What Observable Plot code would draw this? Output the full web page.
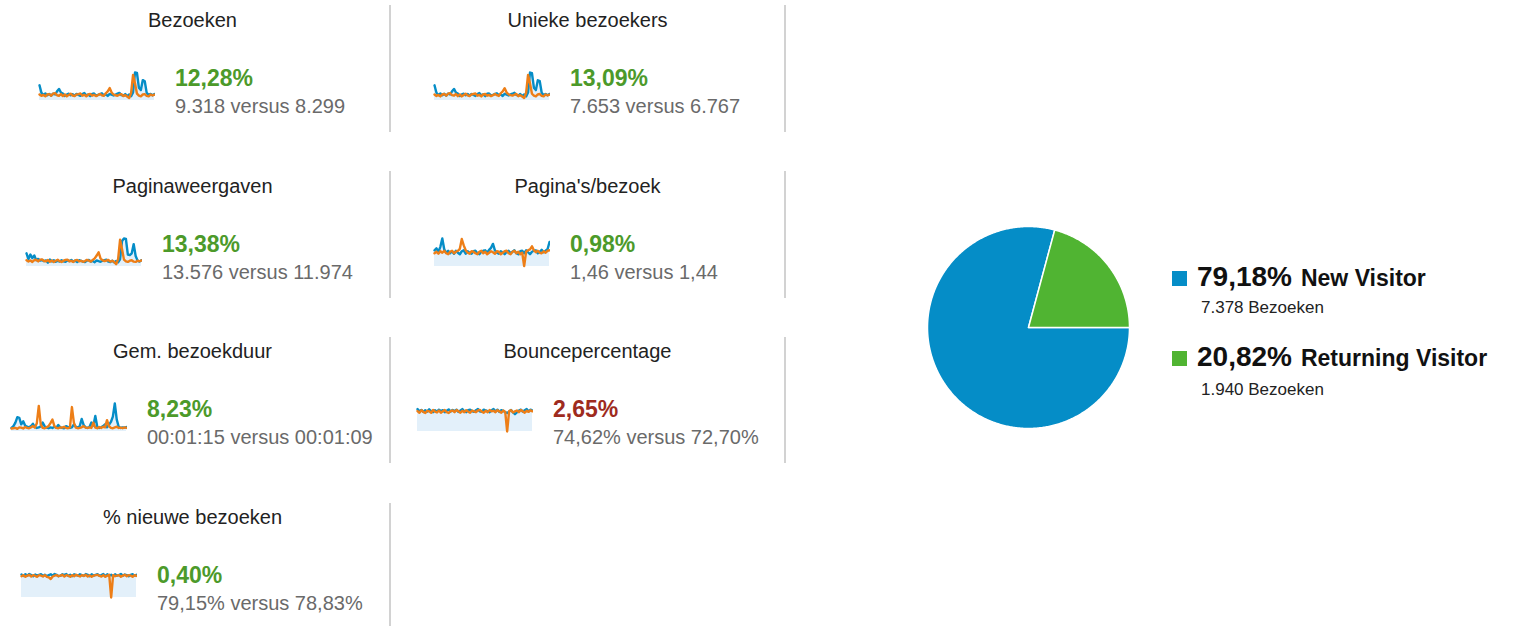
<!DOCTYPE html>
<html>
<head>
<meta charset="utf-8">
<script src="https://cdn.jsdelivr.net/npm/d3@7"></script>
<script src="https://cdn.jsdelivr.net/npm/@observablehq/plot@0.6"></script>
<style>
  html, body { margin: 0; padding: 0; background: #fff; }
  body { width: 1514px; height: 626px; position: relative; overflow: hidden;
         font-family: "Liberation Sans", Arial, Helvetica, sans-serif; }
  .abs { position: absolute; white-space: nowrap; }
  .title { font-size: 20px; line-height: 20px; color: #222; text-align: center; width: 385px; }
  .pct { font-size: 23px; line-height: 23px; font-weight: bold; }
  .sub { font-size: 20px; line-height: 20px; color: #6a6a6a; }
  .divider { width: 2px; background: #d2d2d2; }
  .lg-pct { font-size: 28px; line-height: 28px; font-weight: bold; color: #111; }
  .lg-name { font-size: 23px; font-weight: bold; color: #111; margin-left: 9px; }
  .lg-sub { font-size: 17px; line-height: 17px; color: #222; }
  .sq { width: 15px; height: 15px; }
  svg { display: block; }
</style>
</head>
<body>
<script>
// ---------- DATA ----------
const titles = ["Bezoeken", "Unieke bezoekers", "Paginaweergaven", "Pagina's/bezoek",
                "Gem. bezoekduur", "Bouncepercentage", "% nieuwe bezoeken"];
const changes = ["12,28%", "13,09%", "13,38%", "0,98%", "8,23%", "2,65%", "0,40%"];
const changePositive = [true, true, true, true, true, false, true];
const currentValues = ["9.318", "7.653", "13.576", "1,46", "00:01:15", "74,62%", "79,15%"];
const previousValues = ["8.299", "6.767", "11.974", "1,44", "00:01:09", "72,70%", "78,83%"];
const isPercentMetric = [false, false, false, false, false, true, true];

const bezoekenNu = [380,190,140,175,130,165,120,170,150,230, 290,200,175,115,150,170,130,160,120,165,
  140,115,160,185,130,150,110,165,175,125, 140,160,180,130,150,115,165,145,125,150,
  170,190,135,120,160,110,150,105,200,700, 690,320,260,510,480,190,140,165,130,160];
const bezoekenVorig = [150,115,140,105,150,160,120,170,185,130, 120,160,110,150,105,140,170,125,110,150,
  160,175,120,140,105,150,165,120,140,110, 135,165,130,115,180,230,310,200,150,130,
  120,145,160,110,135,100,60,190,640,430, 170,120,105,150,160,115,105,150,125,145];

const uniekNu = [315,160,115,145,110,140,100,145,125,190, 240,165,145,95,125,140,110,135,100,135,
  115,95,135,155,110,125,90,140,145,105, 115,135,150,110,125,95,140,120,105,125,
  140,160,115,100,135,90,125,85,165,580, 565,265,215,420,400,160,115,135,110,135];
const uniekVorig = [125,95,115,85,125,135,100,140,155,110, 100,135,90,125,85,115,140,105,90,125,
  135,145,100,115,85,125,135,100,115,90, 110,135,110,95,150,190,255,165,125,110,
  100,120,135,90,110,85,50,160,530,355, 140,100,85,125,135,95,85,125,105,120];

const paginaNu = [520,290,470,330,430,250,300,230,260,210, 240,150,270,200,245,185,230,195,250,200,
  180,240,210,260,190,230,175,245,220,190, 175,235,255,195,220,170,240,210,185,225,
  250,270,190,175,230,160,215,165,280,1000, 1100,1080,470,450,520,880,410,230,195,245];
const paginaVorig = [245,195,235,180,250,265,200,270,280,215, 200,255,185,240,175,225,265,210,180,230,
  255,270,205,220,180,240,260,200,225,185, 215,260,230,195,260,320,430,560,310,250,
  210,235,255,190,225,175,90,290,1050,690, 270,205,180,230,245,190,180,230,205,240];

const ppbNu = [1.65,1.85,1.50,2.00,2.85,1.75,1.40,1.60,1.35,1.55, 1.30,1.60,1.40,1.25,1.55,1.65,1.30,1.55,1.40,1.30,
  1.55,1.60,1.35,1.25,1.50,1.60,1.65,1.40,1.70,1.90, 2.30,1.65,1.40,1.30,1.55,1.45,1.25,1.50,1.60,1.35,
  1.50,1.65,1.35,1.25,1.55,1.60,1.35,1.65,1.45,1.25, 1.50,1.60,1.65,1.35,1.50,1.70,1.45,1.60,1.75,2.50];
const ppbVorig = [1.35,1.50,1.30,1.55,1.40,1.60,1.35,1.25,1.50,1.60, 1.35,1.50,1.60,1.80,2.80,2.15,1.65,1.40,1.30,1.55,
  1.50,1.35,1.25,1.50,1.60,1.35,1.50,1.25,1.40,1.55, 1.45,1.30,1.55,1.50,1.25,1.40,1.55,1.60,1.35,1.25,
  1.50,1.60,1.35,1.50,1.25,1.40,0.05,1.50,1.65,1.75, 2.05,1.65,1.45,1.60,1.40,1.35,1.55,1.40,1.60,1.65];

const duurNu = [60,90,150,240,230,120,170,100,80,70, 90,130,75,60,70,85,150,90,65,55,
  70,60,80,65,110,70,60,55,90,75, 60,70,120,80,65,90,210,110,70,60,
  75,150,100,260,80,60,70,90,120,70, 110,160,250,470,200,80,60,70,65,75];
const duurVorig = [50,55,60,45,70,65,50,75,60,55, 70,90,65,140,430,120,60,55,70,90,
  140,200,90,60,55,70,65,80,60,55, 70,410,150,65,55,60,70,90,65,60,
  70,60,150,65,55,75,60,80,70,190, 90,60,55,70,80,60,65,55,70,60];

const bounceNu = [80,72,77,70,76,71,79,73,69,76, 71,78,73,76,69,74,79,71,77,73,
  78,70,75,80,72,69,76,78,73,70, 76,80,72,70,78,75,73,69,76,80,
  72,78,70,76,74,69,66,71,77,68, 62,68,75,78,71,76,80,72,78,75];
const bounceVorig = [73,67,76,70,66,74,72,67,77,71, 68,75,67,72,77,69,66,73,75,69,
  77,72,67,74,69,76,71,67,75,72, 69,75,77,71,67,74,69,77,72,74,
  69,76,72,67,75,70,0,73,76,68, 72,75,69,77,72,67,74,70,76,72];

const nieuwNu = [82,77,83,78,84,80,76,82,78,81, 83,77,81,76,80,83,78,84,81,76,
  78,83,80,84,77,81,76,83,80,78, 83,80,77,84,81,76,83,78,81,83,
  78,80,84,76,83,78,81,76,83,78, 80,84,78,82,80,76,81,83,78,81];
const nieuwVorig = [76,80,74,78,81,75,80,77,74,80, 78,75,80,74,72,66,75,78,80,76,
  78,81,75,80,78,74,80,76,81,78, 75,80,77,81,75,79,74,78,80,81,
  77,75,80,74,78,81,0,80,76,78, 80,74,78,81,76,80,78,74,80,77];

const seriesCurrent = [bezoekenNu, uniekNu, paginaNu, ppbNu, duurNu, bounceNu, nieuwNu];
const seriesPrevious = [bezoekenVorig, uniekVorig, paginaVorig, ppbVorig, duurVorig, bounceVorig, nieuwVorig];

// Pie
const visitorTypes = ["New Visitor", "Returning Visitor"];
const visitorVisits = [7378, 1940];
const visitorPercents = ["79,18%", "20,82%"];
const visitorVisitLabels = ["7.378 Bezoeken", "1.940 Bezoeken"];

// ---------- STYLE / LAYOUT ----------
const C_BLUE = "#058dc7", C_ORANGE = "#ed7e17", C_FILL = "#e3f0fa";
const C_GREEN_PIE = "#50b432";
const C_POS = "#4c9a2a", C_NEG = "#9e2b1e";
const rowTops = [0, 166, 331, 497];
const colLefts = [0, 395];
const sparkLefts = [38, 433, 25, 433, 10, 416, 20];

function el(cls, style, text) {
  const d = document.createElement("div");
  d.className = "abs " + cls;
  Object.assign(d.style, style);
  if (text != null) d.textContent = text;
  document.body.appendChild(d);
  return d;
}

// dividers
const dividerRows = [[5, 132], [171, 298], [337, 463], [503, 626]];
dividerRows.forEach(([y0, y1], r) => {
  el("divider", {left: "389px", top: y0 + "px", height: (y1 - y0) + "px"});
  if (r < 3) el("divider", {left: "784px", top: y0 + "px", height: (y1 - y0) + "px"});
});

titles.forEach((t, i) => {
  const row = Math.floor(i / 2), col = i % 2;
  const top = rowTops[row], left = colLefts[col];
  el("title", {left: left + "px", top: (top + 10) + "px"}, t);

  const cur = seriesCurrent[i], prev = seriesPrevious[i];
  const yMax = isPercentMetric[i] ? 100 : d3.max([...cur, ...prev]);
  const chart = Plot.plot({
    width: 117, height: 32,
    marginTop: 2, marginBottom: 2, marginLeft: 1, marginRight: 1,
    x: {axis: null, domain: [0, cur.length - 1]},
    y: {axis: null, domain: [0, yMax]},
    marks: [
      Plot.areaY(cur, {fill: C_FILL}),
      Plot.lineY(cur, {stroke: C_BLUE, strokeWidth: 2.4}),
      Plot.lineY(prev, {stroke: C_ORANGE, strokeWidth: 2.4})
    ]
  });
  const holder = el("", {left: sparkLefts[i] + "px", top: (top + 70) + "px"});
  holder.appendChild(chart);

  const tx = sparkLefts[i] + 137;
  el("pct", {left: tx + "px", top: (top + 67) + "px", color: changePositive[i] ? C_POS : C_NEG}, changes[i]);
  el("sub", {left: tx + "px", top: (top + 96) + "px"}, currentValues[i] + " versus " + previousValues[i]);
});

// ---------- PIE ----------
const pieColors = [C_BLUE, C_GREEN_PIE];
const pieData = visitorTypes.map((label, i) => ({label, value: visitorVisits[i]}));
const arcs = d3.pie().value(d => d.value).sort(null)
  .startAngle(Math.PI / 2).endAngle(Math.PI / 2 + 2 * Math.PI)(pieData);
const piePts = [];
arcs.forEach(a => {
  piePts.push({label: a.data.label, x: 0, y: 0});
  const n = Math.max(2, Math.ceil((a.endAngle - a.startAngle) / 0.01));
  for (let k = 0; k <= n; k++) {
    const t = a.startAngle + (a.endAngle - a.startAngle) * k / n;
    piePts.push({label: a.data.label, x: Math.sin(t), y: Math.cos(t)});
  }
});
const pie = Plot.plot({
  width: 210, height: 210, margin: 4,
  x: {axis: null, domain: [-1, 1]},
  y: {axis: null, domain: [-1, 1]},
  color: {domain: visitorTypes, range: pieColors},
  marks: [
    Plot.line(piePts, {x: "x", y: "y", z: "label", fill: "label", stroke: "#fff", strokeWidth: 1.5, curve: "linear-closed"})
  ]
});
el("", {left: "923px", top: "222px"}).appendChild(pie);

// legend
const legendTops = [263, 343];
const legendSubTops = [299, 381];
visitorTypes.forEach((name, i) => {
  const t = legendTops[i];
  el("sq", {left: "1172px", top: (t + 8) + "px", background: pieColors[i]});
  const row = el("", {left: "1197px", top: t + "px", display: "flex", alignItems: "baseline"});
  const p = document.createElement("span"); p.className = "lg-pct"; p.textContent = visitorPercents[i];
  const n = document.createElement("span"); n.className = "lg-name"; n.textContent = name;
  row.appendChild(p); row.appendChild(n);
  el("lg-sub", {left: "1201px", top: legendSubTops[i] + "px"}, visitorVisitLabels[i]);
});
</script>
</body>
</html>
